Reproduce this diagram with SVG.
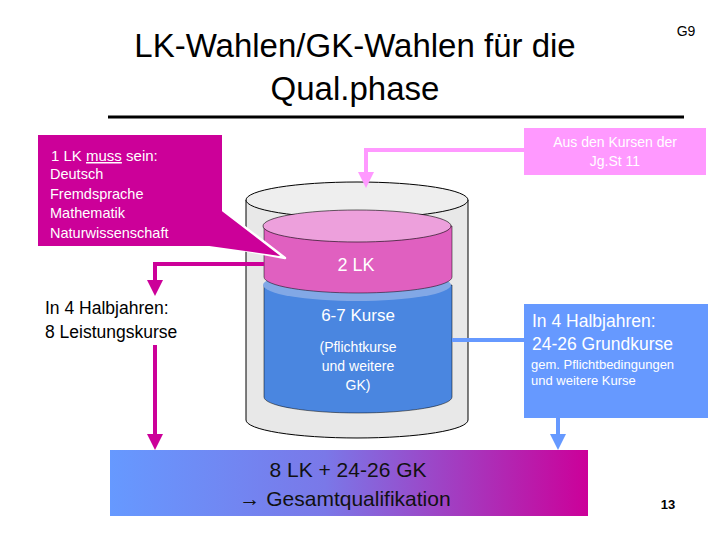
<svg xmlns="http://www.w3.org/2000/svg" width="720" height="540" viewBox="0 0 720 540">
<style>
text{font-family:"Liberation Sans",Arial,sans-serif}
.w{fill:#fff}
.mg{stroke:#CC0099;stroke-width:4;fill:none}
</style>
<defs>
<linearGradient id="g" x1="0" x2="1"><stop offset="0" stop-color="#6699FF"/><stop offset="0.45" stop-color="#7A78E8"/><stop offset="1" stop-color="#CC0099"/></linearGradient>
<marker id="am" viewBox="0 0 10 10" refX="5" refY="5" markerWidth="4" markerHeight="4" orient="auto"><path d="M0,0L10,5L0,10z" fill="#CC0099"/></marker>
<marker id="ab" viewBox="0 0 10 10" refX="5" refY="5" markerWidth="4" markerHeight="4" orient="auto"><path d="M0,0L10,5L0,10z" fill="#6699FF"/></marker>
<marker id="ap" viewBox="0 0 10 10" refX="5" refY="5" markerWidth="4" markerHeight="4" orient="auto"><path d="M0,0L10,5L0,10z" fill="#FF99FF"/></marker>
</defs>
<rect width="720" height="540" fill="#fff"/>
<g id="title">
<text x="355" y="57" font-size="33" text-anchor="middle">LK-Wahlen/GK-Wahlen für die</text>
<text x="355" y="100" font-size="33" text-anchor="middle">Qual.phase</text>
<text x="686" y="36" font-size="14" text-anchor="middle">G9</text>
<line x1="108" y1="117" x2="684" y2="117" stroke="#000" stroke-width="3"/>
</g>
<g id="cylinder">
<path d="M246,200 V420 A111,18 0 0 0 468,420 V200 Z" fill="#E8E8E8" stroke="#000"/>
<ellipse cx="357" cy="200" rx="111" ry="18" fill="#EEEEEE" stroke="#000"/>
<path d="M264,285 V397 A94,16 0 0 0 452,397 V285 Z" fill="#4A86E0" stroke="#000" stroke-width="0.5"/>
<ellipse cx="357" cy="285" rx="94" ry="16" fill="#82A8E6"/>
<path d="M264,226 V277 A94,16 0 0 0 452,277 V226 Z" fill="#E060C0" stroke="#000" stroke-width="0.5"/>
<ellipse cx="357" cy="226" rx="94" ry="16" fill="#EDA0DC" stroke="#000" stroke-width="0.6"/>
<text x="356" y="271" font-size="18" class="w" text-anchor="middle">2 LK</text>
<text x="358" y="321" font-size="17" class="w" text-anchor="middle">6-7 Kurse</text>
<text x="358" y="352" font-size="14" class="w" text-anchor="middle">(Pflichtkurse</text>
<text x="358" y="371" font-size="14" class="w" text-anchor="middle">und weitere</text>
<text x="358" y="390" font-size="14" class="w" text-anchor="middle">GK)</text>
</g>
<g id="callout">
<path d="M190,240 L285,258 L216,205 Z" fill="#CC0099" stroke="#fff" stroke-width="2.5" stroke-linejoin="round"/>
<rect x="38" y="135" width="184" height="111" fill="#CC0099"/>
<path d="M195,244 L280,256 L218,215 Z" fill="#CC0099"/>
<text x="51" y="161" font-size="15" class="w">1 LK <tspan text-decoration="underline">muss</tspan> sein:</text>
<text x="50" y="179" font-size="14.5" class="w">Deutsch</text>
<text x="50" y="199" font-size="14.5" class="w">Fremdsprache</text>
<text x="50" y="218" font-size="14.5" class="w">Mathematik</text>
<text x="50" y="238" font-size="14.5" class="w">Naturwissenschaft</text>
</g>
<g id="aus">
<rect x="524" y="128" width="182" height="47" fill="#FF99FF"/>
<text x="615" y="147" font-size="14" class="w" text-anchor="middle">Aus den Kursen der</text>
<text x="615" y="166" font-size="14" class="w" text-anchor="middle">Jg.St 11</text>
</g>
<g id="lk">
<text x="45" y="314" font-size="17.5">In 4 Halbjahren:</text>
<text x="45" y="338" font-size="17.5">8 Leistungskurse</text>
</g>
<g id="gk">
<rect x="524" y="304" width="184" height="114" fill="#6699FF"/>
<text x="532" y="327" font-size="17.5" class="w">In 4 Halbjahren:</text>
<text x="532" y="350" font-size="17.5" class="w">24-26 Grundkurse</text>
<text x="531" y="369" font-size="13" class="w">gem. Pflichtbedingungen</text>
<text x="531" y="385" font-size="13" class="w">und weitere Kurse</text>
</g>
<g id="result">
<rect x="110" y="450" width="478" height="66" fill="url(#g)"/>
<text x="348" y="477" font-size="21" text-anchor="middle" fill="#111">8 LK + 24-26 GK</text>
<text x="345" y="506" font-size="21" text-anchor="middle" fill="#111">→ Gesamtqualifikation</text>
<text x="668" y="509" font-size="13" font-weight="bold" text-anchor="middle">13</text>
</g>
<g id="connectors">
<path d="M524,150 H366 V180" stroke="#FF99FF" stroke-width="4" fill="none" marker-end="url(#ap)"/>
<path d="M264,264 H155 V288" class="mg" marker-end="url(#am)"/>
<path d="M155,345 V442" class="mg" marker-end="url(#am)"/>
<path d="M452,340 H524" stroke="#6699FF" stroke-width="4" fill="none"/>
<path d="M558,418 V442" stroke="#6699FF" stroke-width="4" fill="none" marker-end="url(#ab)"/>
</g>
</svg>
